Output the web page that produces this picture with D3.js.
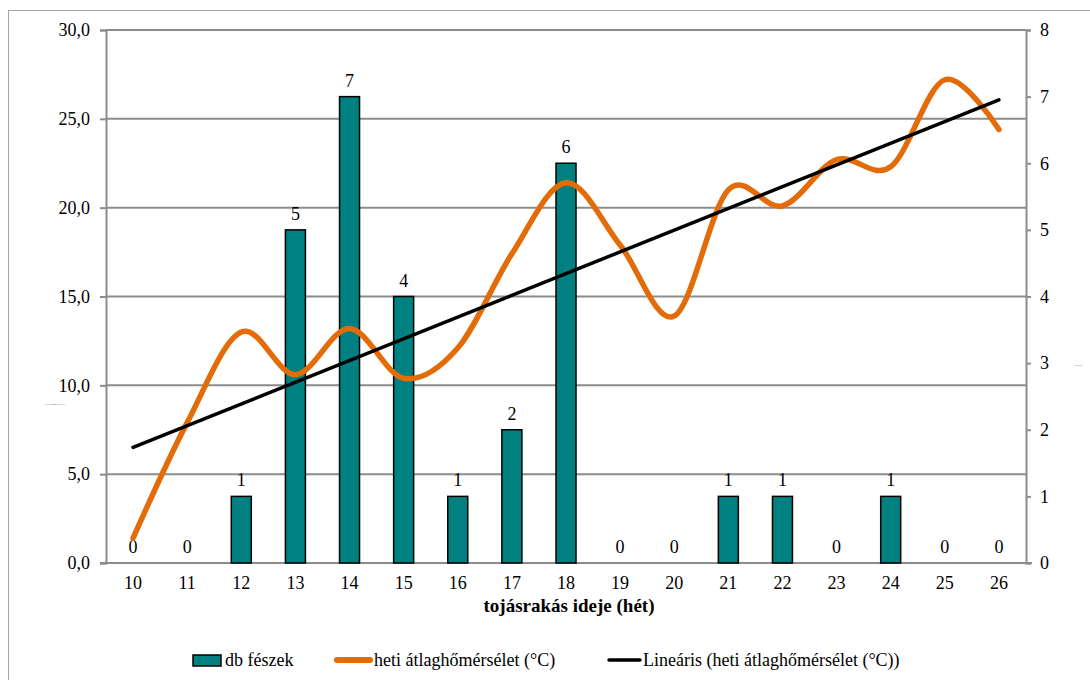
<!DOCTYPE html>
<html>
<head>
<meta charset="utf-8">
<script src="https://cdn.jsdelivr.net/npm/d3@7"></script>
<style>
  body { margin: 0; background: #fff; }
  svg text { font-family: "Liberation Serif", "Times New Roman", "DejaVu Serif", Times, serif; fill: #000; }
</style>
</head>
<body>
<svg id="chart" width="1090" height="680"></svg>
<script>
// weeks of egg laying
var weeks = [10, 11, 12, 13, 14, 15, 16, 17, 18, 19, 20, 21, 22, 23, 24, 25, 26];
// db fészek (right axis)
var nests = [0, 0, 1, 5, 7, 4, 1, 2, 6, 0, 0, 1, 1, 0, 1, 0, 0];
// heti átlaghőmérséklet (left axis)
var temps = [1.4, 7.9, 13.0, 10.6, 13.2, 10.4, 12.1, 17.4, 21.4, 17.9, 13.9, 21.0, 20.1, 22.7, 22.3, 27.2, 24.4];
var leftTicks = [0, 5, 10, 15, 20, 25, 30];
var rightTicks = [0, 1, 2, 3, 4, 5, 6, 7, 8];

var svg = d3.select("#chart");
var margin = {top: 30, right: 64, bottom: 117, left: 106},
    width = 1090 - margin.left - margin.right,
    height = 680 - margin.top - margin.bottom;
var fs = "18px";

// chart frame
svg.append("rect")
    .attr("x", 8.5).attr("y", 10.5)
    .attr("width", 1100).attr("height", 700)
    .attr("fill", "none").attr("stroke", "#a6a6a6");

var g = svg.append("g").attr("transform", "translate(" + margin.left + "," + margin.top + ")");

var x = d3.scaleBand().domain(weeks).range([0, width]);
var yL = d3.scaleLinear().domain([0, 30]).range([height, 0]);
var yR = d3.scaleLinear().domain([0, 8]).range([height, 0]);
var xc = function(w) { return x(w) + x.bandwidth() / 2; };

// gridlines
g.selectAll(".grid")
    .data(leftTicks.slice(1))
    .enter().append("line")
    .attr("x1", 0).attr("x2", width)
    .attr("y1", function(d) { return yL(d); })
    .attr("y2", function(d) { return yL(d); })
    .attr("stroke", "#8c8c8c").attr("stroke-width", 2);

// axes
var axL = g.append("g")
    .call(d3.axisLeft(yL).tickValues(leftTicks).tickSize(6).tickPadding(10)
        .tickFormat(function(d) { return d3.format(".1f")(d).replace(".", ","); }));
var axR = g.append("g")
    .attr("transform", "translate(" + width + ",0)")
    .call(d3.axisRight(yR).tickValues(rightTicks).tickSize(5).tickPadding(9));
var axX = g.append("g")
    .attr("transform", "translate(0," + height + ")")
    .call(d3.axisBottom(x).tickSize(0).tickPadding(13));

[axL, axR, axX].forEach(function(a) {
  a.attr("font-family", null);
  a.select(".domain").attr("stroke", "#8c8c8c").attr("stroke-width", 2);
  a.selectAll(".tick line").attr("stroke", "#8c8c8c").attr("stroke-width", 2);
  a.selectAll("text").style("font-size", fs);
});
axX.select(".domain").attr("d", "M-6,0H" + (width + 6));

// bars
var barW = 20;
g.selectAll(".bar")
    .data(weeks.map(function(w, i) { return {w: w, v: nests[i]}; }))
    .enter().append("rect")
    .attr("x", function(d) { return xc(d.w) - barW / 2; })
    .attr("y", function(d) { return yR(d.v); })
    .attr("width", barW)
    .attr("height", function(d) { return height - yR(d.v); })
    .attr("fill", "#008080")
    .attr("stroke", "#000").attr("stroke-width", 1.5)
    .style("display", function(d) { return d.v > 0 ? null : "none"; });

// bar labels
g.selectAll(".blabel")
    .data(weeks.map(function(w, i) { return {w: w, v: nests[i]}; }))
    .enter().append("text")
    .attr("x", function(d) { return xc(d.w); })
    .attr("y", function(d) { return yR(d.v) - 10; })
    .attr("text-anchor", "middle")
    .style("font-size", fs)
    .text(function(d) { return d.v; });

// temperature line
var pts = weeks.map(function(w, i) { return [xc(w), yL(temps[i])]; });
g.append("path")
    .attr("d", d3.line().curve(d3.curveCardinal.tension(0))(pts))
    .attr("fill", "none")
    .attr("stroke", "#e36c09").attr("stroke-width", 5.5)
    .attr("stroke-linecap", "round");

// linear trend of temperature
var mx = d3.mean(weeks), my = d3.mean(temps);
var slope = d3.sum(weeks, function(w, i) { return (w - mx) * (temps[i] - my); }) /
            d3.sum(weeks, function(w) { return (w - mx) * (w - mx); });
var trend = function(w) { return my + slope * (w - mx); };
var w0 = weeks[0], w1 = weeks[weeks.length - 1];
g.append("line")
    .attr("x1", xc(w0)).attr("y1", yL(trend(w0)))
    .attr("x2", xc(w1)).attr("y2", yL(trend(w1)))
    .attr("stroke", "#000").attr("stroke-width", 3.5)
    .attr("stroke-linecap", "round");

// x axis title
g.append("text")
    .attr("x", width / 2 + 3).attr("y", height + 49)
    .attr("text-anchor", "middle")
    .style("font-size", "19px").style("font-weight", "bold")
    .text("tojásrakás ideje (hét)");

// tiny leftover axis titles
svg.append("text").attr("x", 45).attr("y", 405)
    .style("font-size", "2px").style("fill", "#555").text("heti átlaghőmérsélet (°C)");
svg.append("text").attr("x", 1075).attr("y", 366)
    .style("font-size", "2px").style("fill", "#555").text("db fészek");

// legend
var lg = svg.append("g").attr("transform", "translate(0,660)");
lg.append("rect").attr("x", 193).attr("y", -5).attr("width", 28).attr("height", 11)
    .attr("fill", "#008080").attr("stroke", "#000").attr("stroke-width", 1.5);
lg.append("text").attr("x", 225).attr("y", 6).style("font-size", fs).text("db fészek");
lg.append("line").attr("x1", 337).attr("x2", 370).attr("y1", 0).attr("y2", 0)
    .attr("stroke", "#e36c09").attr("stroke-width", 6).attr("stroke-linecap", "round");
lg.append("text").attr("x", 374).attr("y", 6).style("font-size", fs).text("heti átlaghőmérsélet (°C)");
lg.append("line").attr("x1", 609).attr("x2", 640).attr("y1", 0).attr("y2", 0)
    .attr("stroke", "#000").attr("stroke-width", 3.5).attr("stroke-linecap", "round");
lg.append("text").attr("x", 643).attr("y", 6).style("font-size", fs).text("Lineáris (heti átlaghőmérsélet (°C))");
</script>
</body>
</html>
